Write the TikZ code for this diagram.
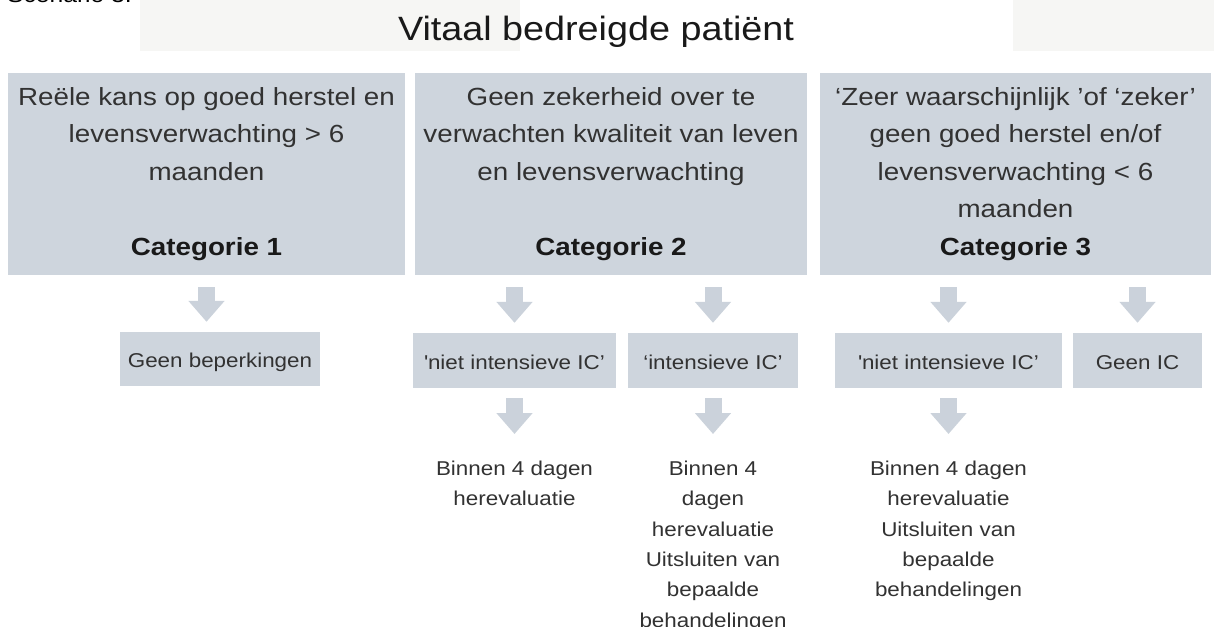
\documentclass[tikz,border=0pt]{standalone}
\usepackage{fontspec}
\setmainfont{Liberation Sans}[FakeStretch=1.12]
\usetikzlibrary{arrows.meta,calc}
\definecolor{boxc}{RGB}{206,213,221}
\definecolor{arrc}{RGB}{203,210,219}
\definecolor{bgc}{RGB}{246,246,244}
\definecolor{txc}{RGB}{50,50,50}
\newcommand\tstrut[1]{\rule{0pt}{#1}}
\begin{document}
\begin{tikzpicture}[x=1pt,y=-1pt,
 catbox/.style={fill=boxc, draw=none, inner sep=0pt},
 cattext/.style={anchor=north, align=center, text=txc, font=\fontsize{24.8}{37.5}\selectfont, inner sep=0pt},
 subbox/.style={fill=boxc, draw=none, inner sep=0pt, text=txc, font=\fontsize{20}{24}\selectfont, text height=17pt, text depth=0pt},
 note/.style={anchor=north, align=center, text=txc, font=\fontsize{20}{30.4}\selectfont, inner sep=0pt},
 barrow/.style={draw=arrc, line width=17pt, -{Triangle[width=35pt,length=21pt]}}]
\useasboundingbox (0,0) rectangle (1214,626);
\fill[white] (0,0) rectangle (1214,626);
\fill[bgc] (140,0) rectangle (520,51);
\fill[bgc] (1013,0) rectangle (1214,51);
\begin{scope}
\clip (0,0) rectangle (1214,626);
\node[anchor=base east, font=\fontsize{22}{26}\selectfont, inner sep=0pt] (scen) at (132,2.5) {Scenario 3:};
\end{scope}
\node[anchor=base, font=\fontsize{33.7}{40}\selectfont, inner sep=0pt, text=black!90] (title) at (596,41) {Vitaal bedreigde patiënt};

\node[catbox, minimum width=397pt, minimum height=202pt] (c1) at (206.5,174) {};
\node[catbox, minimum width=392pt, minimum height=202pt] (c2) at (611,174) {};
\node[catbox, minimum width=391pt, minimum height=202pt] (c3) at (1015.5,174) {};

\node[cattext] (c1t) at (206.5,80.2) {\tstrut{24.8pt}Reële kans op goed herstel en\\levensverwachting > 6\\maanden\\\mbox{}\\\textbf{\color{black!90}Categorie 1}};
\node[cattext] (c2t) at (611,80.2) {\tstrut{24.8pt}Geen zekerheid over te\\verwachten kwaliteit van leven\\en levensverwachting\\\mbox{}\\\textbf{\color{black!90}Categorie 2}};
\node[cattext] (c3t) at (1015.5,80.2) {\tstrut{24.8pt}‘Zeer waarschijnlijk ’of ‘zeker’\\geen goed herstel en/of\\levensverwachting < 6\\maanden\\\textbf{\color{black!90}Categorie 3}};

\node[subbox, minimum width=200pt, minimum height=54pt] (s1) at (220,359) {Geen beperkingen};
\node[subbox, minimum width=203pt, minimum height=55pt] (s2a) at (514.5,360.5) {\textquotesingle niet intensieve IC’};
\node[subbox, minimum width=170pt, minimum height=55pt] (s2b) at (713,360.5) {‘intensieve IC’};
\node[subbox, minimum width=227pt, minimum height=55pt] (s3a) at (948.5,360.5) {\textquotesingle niet intensieve IC’};
\node[subbox, minimum width=129pt, minimum height=55pt] (s3b) at (1137.5,360.5) {Geen IC};

\node[note] (t2a) at (514.5,455) {\tstrut{20pt}Binnen 4 dagen\\herevaluatie};
\node[note] (t2b) at (713,455) {\tstrut{20pt}Binnen 4\\dagen\\herevaluatie\\Uitsluiten van\\bepaalde\\behandelingen};
\node[note] (t3a) at (948.5,455) {\tstrut{20pt}Binnen 4 dagen\\herevaluatie\\Uitsluiten van\\bepaalde\\behandelingen};

\draw[barrow] ($(c1.south)+(0,12)$) -- ($(c1.south |- s1.north)+(0,-10)$);
\draw[barrow] ($(s2a.north |- c2.south)+(0,12)$) -- ($(s2a.north)+(0,-10)$);
\draw[barrow] ($(s2b.north |- c2.south)+(0,12)$) -- ($(s2b.north)+(0,-10)$);
\draw[barrow] ($(s3a.north |- c3.south)+(0,12)$) -- ($(s3a.north)+(0,-10)$);
\draw[barrow] ($(s3b.north |- c3.south)+(0,12)$) -- ($(s3b.north)+(0,-10)$);
\draw[barrow] ($(s2a.south)+(0,10)$) -- ($(t2a.north)+(0,-21)$);
\draw[barrow] ($(s2b.south)+(0,10)$) -- ($(t2b.north)+(0,-21)$);
\draw[barrow] ($(s3a.south)+(0,10)$) -- ($(t3a.north)+(0,-21)$);
\end{tikzpicture}
\end{document}
